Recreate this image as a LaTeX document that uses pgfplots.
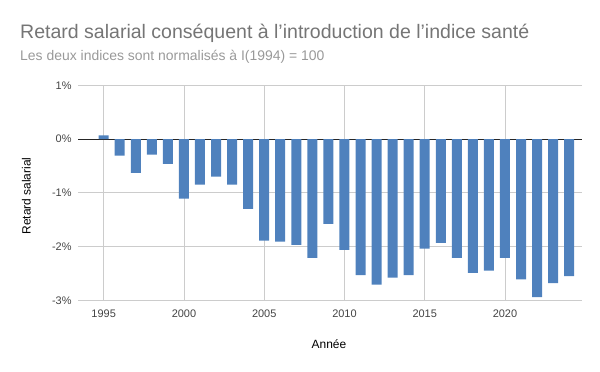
\documentclass[border=0pt]{standalone}
\usepackage{pgfplots}
\pgfplotsset{compat=1.18}
\usepackage{fontspec}
\setmainfont{Liberation Sans}
\definecolor{barblue}{RGB}{79,129,189}
\definecolor{titlegray}{RGB}{117,117,117}
\definecolor{subgray}{RGB}{153,153,153}
\definecolor{ticktext}{RGB}{68,68,68}
\definecolor{gridgray}{RGB}{204,204,204}
\begin{document}
\begin{tikzpicture}[x=1bp,y=1bp]
\useasboundingbox (0,0) rectangle (600,371);
\node[anchor=base west, inner sep=0pt, text=titlegray, font=\fontsize{19.6}{22}\selectfont] at (20,332.7) {Retard salarial conséquent à l’introduction de l’indice santé};
\node[anchor=base west, inner sep=0pt, text=subgray, font=\fontsize{14}{16}\selectfont] at (20,310.3) {Les deux indices sont normalisés à I(1994) = 100};
\node[anchor=base, inner sep=0pt, rotate=90, font=\fontsize{12}{14}\selectfont] at (30.5,175) {Retard salarial};
\node[anchor=base, inner sep=0pt, font=\fontsize{12}{14}\selectfont] at (329,22.7) {Année};
\begin{axis}[
  at={(78bp,70.7bp)}, anchor=south west,
  width=504bp, height=215bp, scale only axis,
  xmin=1993.4, xmax=2024.8,
  ymin=-3, ymax=1,
  ybar, bar width=10bp,
  axis line style={draw=none},
  major tick length=0pt,
  xtick={1995,2000,2005,2010,2015,2020},
  xticklabels={1995,2000,2005,2010,2015,2020},
  ytick={-3,-2,-1,0,1},
  yticklabels={-3\%,-2\%,-1\%,0\%,1\%},
  extra y ticks={0},
  extra y tick labels={},
  extra y tick style={grid style={black!85, line width=0.8pt}},
  grid=major,
  grid style={gridgray, line width=0.8pt},
  ticklabel style={text=ticktext, font=\fontsize{11}{13}\selectfont, inner sep=0pt},
  xticklabel style={anchor=base, yshift=-17bp},
  yticklabel style={anchor=east, xshift=-6.3bp},
  clip=false,
]
\addplot[fill=barblue, draw=none] coordinates {
(1995,0.07) (1996,-0.31) (1997,-0.63) (1998,-0.29) (1999,-0.46)
(2000,-1.11) (2001,-0.85) (2002,-0.70) (2003,-0.85) (2004,-1.30)
(2005,-1.89) (2006,-1.91) (2007,-1.97) (2008,-2.21) (2009,-1.58)
(2010,-2.06) (2011,-2.53) (2012,-2.71) (2013,-2.58) (2014,-2.53)
(2015,-2.04) (2016,-1.93) (2017,-2.21) (2018,-2.49) (2019,-2.45)
(2020,-2.21) (2021,-2.61) (2022,-2.94) (2023,-2.68) (2024,-2.55)
};
\end{axis}
\end{tikzpicture}
\end{document}
